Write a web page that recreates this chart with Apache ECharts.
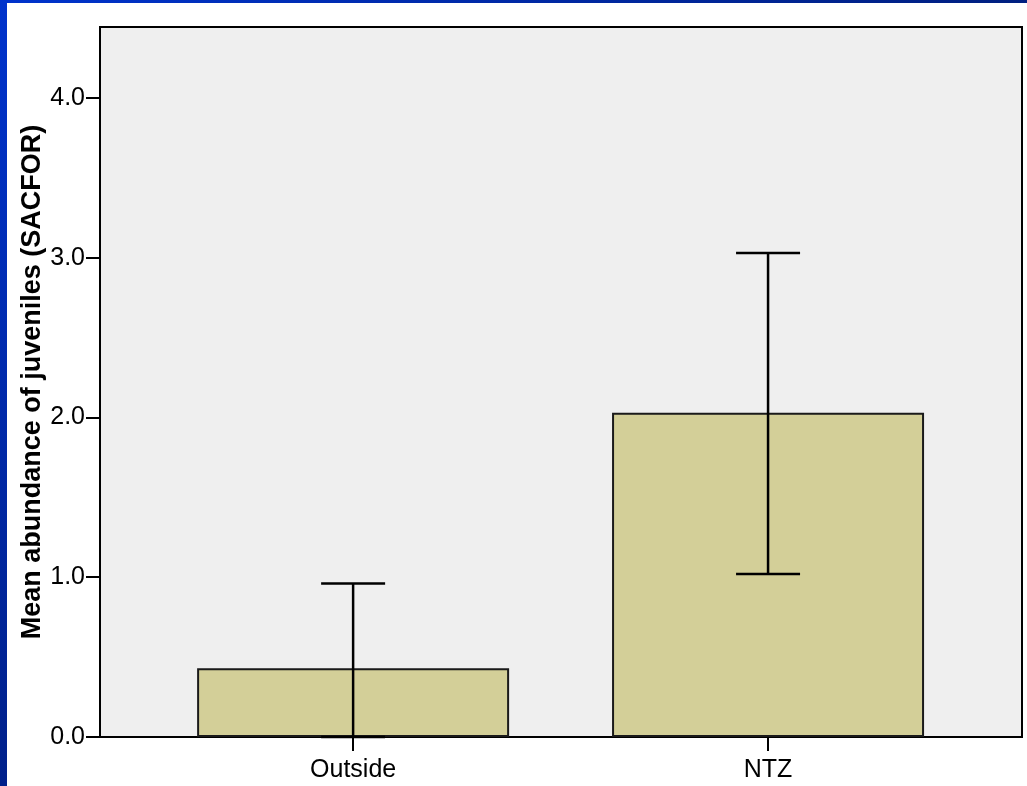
<!DOCTYPE html>
<html>
<head>
<meta charset="utf-8">
<script src="https://cdn.jsdelivr.net/npm/echarts@6/dist/echarts.min.js"></script>
<style>
  html, body { margin: 0; padding: 0; background: #ffffff; }
  #chart { width: 1027px; height: 786px; }
</style>
</head>
<body>
<div id="chart"></div>
<script>
// Mean juvenile abundance (SACFOR scale) with 95% CI error bars
const categories = ['Outside', 'NTZ'];
const means = [0.43, 2.03];
const ciUpper = [0.96, 3.03];
const ciLower = [0.00, 1.02];
const yTicks = [0, 1, 2, 3, 4];

const chart = echarts.init(document.getElementById('chart'), null, { renderer: 'canvas' });

const barData = means.map((m, i) => [i, m]);
const errData = means.map((m, i) => [i, ciLower[i], ciUpper[i]]);

const option = {
  backgroundColor: '#ffffff',
  animation: false,
  graphic: [
    {
      type: 'rect', left: 0, top: 0, z: 100,
      shape: { width: 1027, height: 3 },
      style: { fill: new echarts.graphic.LinearGradient(0, 0, 1, 0, [
        { offset: 0, color: '#0033cc' }, { offset: 1, color: '#001f80' }]) }
    },
    {
      type: 'rect', left: 0, top: 0, z: 100,
      shape: { width: 7, height: 786 },
      style: { fill: new echarts.graphic.LinearGradient(0, 0, 0, 1, [
        { offset: 0, color: '#0033cc' }, { offset: 1, color: '#00208a' }]) }
    }
  ],
  grid: {
    left: 100, top: 27, right: 5, bottom: 49,
    show: true,
    backgroundColor: '#efefef',
    borderColor: '#000000',
    borderWidth: 2
  },
  xAxis: {
    type: 'value',
    min: -0.61,
    max: 1.612,
    splitLine: { show: false },
    axisLine: { show: true, onZero: false, lineStyle: { color: '#000', width: 2 } },
    axisTick: { show: true, length: 14, customValues: [0, 1], lineStyle: { color: '#000', width: 2 } },
    axisLabel: {
      customValues: [0, 1],
      formatter: v => categories[Math.round(v)] || '',
      fontFamily: 'Liberation Sans, Arial, sans-serif',
      fontSize: 25,
      color: '#000',
      margin: 21
    }
  },
  yAxis: {
    type: 'value',
    min: 0,
    max: 4.444,
    interval: 1,
    splitLine: { show: false },
    axisLine: { show: true, onZero: false, lineStyle: { color: '#000', width: 2 } },
    axisTick: { show: true, length: 14, customValues: yTicks, lineStyle: { color: '#000', width: 2 } },
    axisLabel: {
      customValues: yTicks,
      formatter: v => v.toFixed(1),
      fontFamily: 'Liberation Sans, Arial, sans-serif',
      fontSize: 25,
      color: '#000',
      margin: 15
    },
    name: 'Mean abundance of juveniles (SACFOR)',
    nameLocation: 'middle',
    nameRotate: 90,
    nameGap: 54,
    nameMoveOverlap: false,
    nameTextStyle: {
      fontFamily: 'Liberation Sans, Arial, sans-serif',
      fontSize: 27,
      fontWeight: 'bold',
      color: '#000'
    }
  },
  series: [
    {
      type: 'bar',
      data: barData,
      barWidth: 312,
      itemStyle: { color: '#d3cf98', borderColor: '#1a1a1a', borderWidth: 2 },
      z: 2
    },
    {
      type: 'custom',
      data: errData,
      z: 3,
      renderItem: function (params, api) {
        const x = api.value(0);
        const lo = api.coord([x, api.value(1)]);
        const hi = api.coord([x, api.value(2)]);
        const half = 32;
        const style = { stroke: '#000', lineWidth: 2.5 };
        return {
          type: 'group',
          children: [
            { type: 'line', shape: { x1: lo[0], y1: lo[1], x2: hi[0], y2: hi[1] }, style },
            { type: 'line', shape: { x1: hi[0] - half, y1: hi[1], x2: hi[0] + half, y2: hi[1] }, style },
            { type: 'line', shape: { x1: lo[0] - half, y1: lo[1], x2: lo[0] + half, y2: lo[1] }, style }
          ]
        };
      }
    }
  ]
};

chart.setOption(option);
</script>
</body>
</html>
